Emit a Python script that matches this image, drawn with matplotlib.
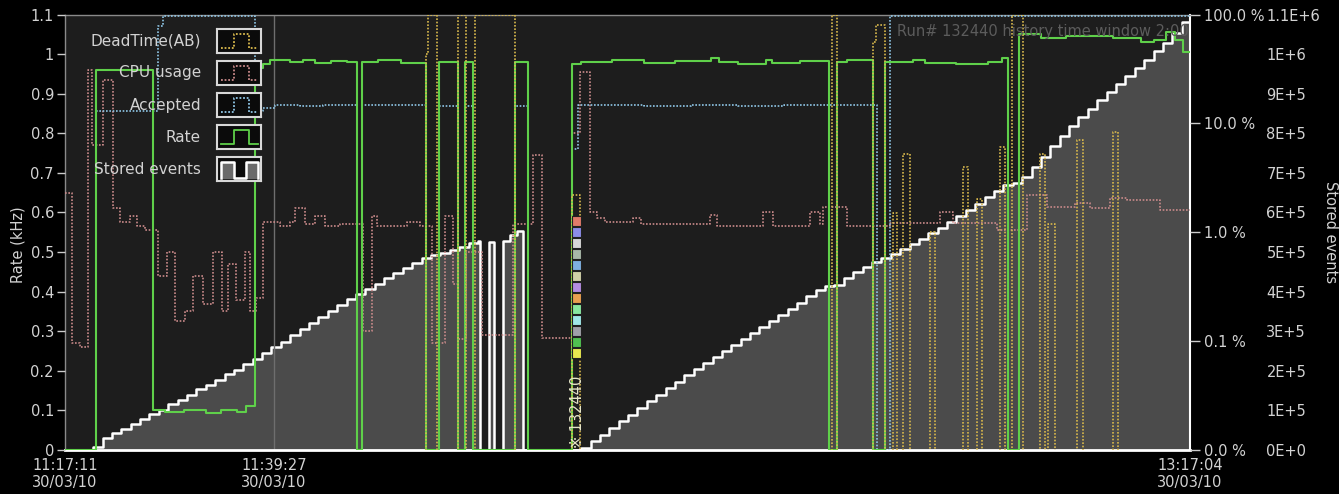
"""Run-control history: trigger rate, CPU usage, accepted, dead time and stored events."""
import matplotlib
matplotlib.use("Agg")
import matplotlib.pyplot as plt
import matplotlib.transforms as mtransforms
from matplotlib.ticker import NullLocator
import numpy as np

# ---------------------------------------------------------------- data
# all times are seconds after 11:17:11 on 30/03/10
start_clock = "11:17:11"
end_clock = "13:17:04"
tick_clocks = ["11:17:11", "11:39:27", "13:17:04"]
tick_date = "30/03/10"
cursor_clock = "11:39:27"
run_number = "132440"
run_start_t = 3242

# Rate (kHz), green solid
rate_t = [0, 198, 563, 640, 760, 900, 1000, 1100, 1160, 1215, 1266, 1311, 1440,
          1520, 1600, 1700, 1800, 1867, 1899, 2000, 2150, 2308, 2391, 2513, 2558,
          2609, 2877, 2960, 3242, 3300, 3500, 3700, 3900, 4130, 4180, 4300, 4480,
          4520, 4700, 4885, 4936, 5000, 5166, 5243, 5420, 5500, 5700, 5900, 5990,
          6029, 6100, 6240, 6400, 6700, 6880, 6960, 7040, 7100, 7148]
rate_v = [0, 0.96, 0.10, 0.095, 0.10, 0.093, 0.10, 0.095, 0.11, 0.965, 0.975, 0.985, 0.98,
          0.985, 0.978, 0.983, 0.98, 0, 0.98, 0.985, 0.978, 0, 0.98, 0, 0.98,
          0, 0.98, 0, 0.975, 0.98, 0.985, 0.978, 0.983, 0.99, 0.98, 0.975, 0.985,
          0.978, 0.983, 0, 0.98, 0.985, 0, 0.98, 0.985, 0.978, 0.975, 0.98, 0.99,
          0, 1.05, 1.04, 1.045, 1.04, 1.03, 1.035, 1.055, 1.035, 1.005]

# CPU usage, rose dotted (same left scale)
cpu_t = [0, 45, 96, 147, 173, 243, 307, 352, 416, 460, 512, 595, 652, 703, 767, 818,
         882, 946, 1004, 1042, 1093, 1151, 1183, 1221, 1266, 1375, 1439, 1471, 1535,
         1599, 1662, 1758, 1905, 1963, 1995, 2187, 2270, 2347, 2430, 2481, 2513,
         2564, 2666, 2865, 2992, 3050, 3242, 3293, 3357, 3402, 3453, 3632, 3683,
         4124, 4169, 4463, 4527, 4764, 4828, 4847, 5000, 5275, 5595, 5678, 5959,
         6151, 6279, 6458, 6554, 6682, 6790, 7001]
cpu_v = [0.65, 0.27, 0.26, 0.96, 0.77, 0.935, 0.61, 0.575, 0.59, 0.565, 0.555, 0.44, 0.50,
         0.325, 0.35, 0.44, 0.37, 0.50, 0.35, 0.47, 0.38, 0.50, 0.35, 0.385, 0.575, 0.565,
         0.575, 0.61, 0.57, 0.59, 0.565, 0.57, 0.30, 0.59, 0.565, 0.577, 0.565, 0.27,
         0.59, 0.42, 0.28, 0.50, 0.29, 0.57, 0.745, 0.283, 0.80, 0.955, 0.60, 0.585,
         0.575, 0.585, 0.572, 0.594, 0.567, 0.60, 0.565, 0.60, 0.57, 0.614, 0.565,
         0.574, 0.60, 0.574, 0.556, 0.645, 0.615, 0.625, 0.61, 0.637, 0.632, 0.607]

# Accepted, light-blue dotted (same left scale)
acc_t = [0, 198, 595, 627, 1215, 1266, 1343, 1500, 1650, 1867, 1899, 2308, 2391, 2513,
         2558, 2609, 2877, 2960, 3242, 3280, 3700, 4000, 4300, 4600, 5192, 5275]
acc_v = [0, 0.855, 1.07, 1.097, 0.855, 0.865, 0.872, 0.868, 0.872, 0, 0.872, 0, 0.87, 0,
         0.87, 0, 0.87, 0, 0.76, 0.872, 0.868, 0.872, 0.87, 0.872, 0, 1.097]

# DeadTime(AB) in percent, yellow dotted (log scale)
dead_t = [0, 2308, 2321, 2379, 2513, 2564, 2622, 2877, 3242, 3293, 4904, 4936, 5166,
          5185, 5243, 5294, 5320, 5358, 5403, 5531, 5563, 5742, 5774, 5831, 5863,
          5978, 6010, 6055, 6125, 6234, 6266, 6285, 6330, 6471, 6509, 6701, 6733]
dead_pct = [0, 43, 100, 0, 100, 0, 100, 0, 2.2, 0, 100, 0, 56,
            80, 0, 1.5, 0, 5.2, 0, 1.0, 0, 4.0, 0, 2.0, 0,
            6.1, 0, 100, 0, 5.2, 0, 1.2, 0, 7.1, 0, 8.3, 0]

# Stored events (thousands), sampled once a minute
stored_t = [*range(0, 2641, 60), 2654, 2711, 2743, 2801, 2845, 2890, 2928,
            3280, *range(3300, 7141, 60), 7193]
stored_k = [0, 0, 0, 8, 30, 42, 54, 66, 78, 90, 102, 115, 127, 140, 153, 165, 178, 191,
            203, 216, 229, 244, 259, 274, 290, 305, 321, 336, 352, 367, 381, 394, 407,
            420, 434, 447, 460, 473, 486, 492, 497, 504, 512, 522, 528,
            0, 526, 0, 529, 543, 554, 0,
            0, 6, 22, 39, 56, 72, 89, 106, 123, 140, 156, 173, 189, 204, 220, 235, 250,
            265, 281, 296, 311, 327, 342, 357, 372, 388, 403, 415, 418, 435, 449, 462,
            475, 484, 494, 508, 521, 534, 547, 561, 576, 591, 607, 622, 638, 653, 669,
            675, 689, 715, 741, 767, 792, 818, 841, 862, 883, 903, 924, 945, 966, 986,
            1007, 1028, 1053, 1082, 1092]

rate_ticks = [0, 0.1, 0.2, 0.3, 0.4, 0.5, 0.6, 0.7, 0.8, 0.9, 1.0, 1.1]
rate_labels = ["0", "0.1", "0.2", "0.3", "0.4", "0.5", "0.6", "0.7", "0.8", "0.9", "1", "1.1"]
pct_ticks = [100, 10, 1, 0.1, 0.01]
pct_labels = ["100.0 %", "10.0 %", "1.0 %", "0.1 %", "0.0 %"]
ev_ticks = [0, 1e5, 2e5, 3e5, 4e5, 5e5, 6e5, 7e5, 8e5, 9e5, 1e6, 1.1e6]
ev_labels = ["0E+0", "1E+5", "2E+5", "3E+5", "4E+5", "5E+5", "6E+5", "7E+5", "8E+5",
             "9E+5", "1E+6", "1.1E+6"]

# colour key shown in the run marker column (top to bottom)
marker_colors = ["#e07a6a", "#8c8ce8", "#d8d8d8", "#a8b8a8", "#7fb0e0", "#d0d0a8",
                 "#b48ce0", "#e8a050", "#88e8a0", "#a0e8e8", "#a0a0a8", "#50c050",
                 "#e8e850"]

legend_labels = ["DeadTime(AB)", "CPU usage", "Accepted", "Rate", "Stored events"]

# ---------------------------------------------------------------- style
GREEN = "#5fd04a"
ROSE = "#c98a8a"
BLUE = "#8fc6e6"
YELLOW = "#d8b84c"
TXT = "#d2d2d2"
DOTS = (0, (1, 1))
FS = 10.5


def clock_to_s(clock):
    h, m, s = (int(p) for p in clock.split(":"))
    h0, m0, s0 = (int(p) for p in start_clock.split(":"))
    return (h - h0) * 3600 + (m - m0) * 60 + (s - s0)


def ext(t, v, t_end):
    # extend a step series to the right edge
    return list(t) + [t_end], list(v) + [v[-1]]


plt.rcParams["font.family"] = ["DejaVu Sans"]
t_end = clock_to_s(end_clock)

fig = plt.figure(figsize=(13.39, 4.94), dpi=100, facecolor="black")
ax = fig.add_axes([65 / 1339, 1 - 450 / 494, 1125 / 1339, 435.5 / 494])
ax.set_facecolor("#1d1d1d")
ax.set_xlim(0, t_end)
ax.set_ylim(0, 1.1e6)

# stored events: grey area with a white staircase
st = np.array(stored_t)
sk = np.array(stored_k) * 1000.0
ax.fill_between(st, sk, step="post", color="#4b4b4b", lw=0)
ax.plot(st, sk, drawstyle="steps-post", color="white", lw=1.8)
ax.axvline(clock_to_s(cursor_clock), color="#6e6e6e", lw=1)

ax.set_yticks([])
ax.set_xticks([clock_to_s(c) for c in tick_clocks],
              [f"{c}\n{tick_date}" for c in tick_clocks])
ax.tick_params(axis="x", length=0, pad=6, labelcolor=TXT, labelsize=FS)
for lab in ax.get_xticklabels():
    lab.set_linespacing(1.1)
for side, col, lw in [("top", "#8a8a8a", 1), ("left", "#8a8a8a", 1),
                      ("bottom", "white", 2), ("right", "white", 1.5)]:
    ax.spines[side].set_color(col)
    ax.spines[side].set_linewidth(lw)

# stored-events scale: labels only, set well to the right of the plot
ax_ev = ax.twinx()
ax_ev.set_ylim(0, 1.1e6)
ax_ev.set_yticks(ev_ticks, ev_labels)
for s in ax_ev.spines.values():
    s.set_visible(False)
ax_ev.spines["right"].set_position(("outward", 53))
ax_ev.tick_params(axis="y", length=0, pad=2, labelcolor=TXT, labelsize=FS)

# rate, cpu, accepted on the left kHz scale
ax_rate = ax.twinx()
ax_rate.set_ylim(0, 1.1)
ax_rate.yaxis.tick_left()
ax_rate.set_yticks(rate_ticks, rate_labels)
ax_rate.tick_params(axis="y", length=6, width=1, color="#cccccc", pad=2,
                    labelcolor=TXT, labelsize=FS)
for s in ax_rate.spines.values():
    s.set_visible(False)

t, v = ext(cpu_t, cpu_v, t_end)
ax_rate.plot(t, v, drawstyle="steps-post", color=ROSE, lw=1.2, ls=DOTS)
t, v = ext(acc_t, acc_v, t_end)
ax_rate.plot(t, v, drawstyle="steps-post", color=BLUE, lw=1.2, ls=DOTS)
t, v = ext(rate_t, rate_v, t_end)
ax_rate.plot(t, v, drawstyle="steps-post", color=GREEN, lw=1.5)

# dead time on a log percent scale
ax_pct = ax.twinx()
ax_pct.set_yscale("log")
ax_pct.set_ylim(0.01, 100)
t, v = ext(dead_t, dead_pct, t_end)
ax_pct.plot(t, np.maximum(v, 0.005), drawstyle="steps-post", color=YELLOW, lw=1.2, ls=DOTS)
ax_pct.set_yticks(pct_ticks, pct_labels)
ax_pct.yaxis.set_minor_locator(NullLocator())
ax_pct.tick_params(axis="y", length=7, width=1, color="#cccccc", pad=3,
                   labelcolor=TXT, labelsize=FS)
for s in ax_pct.spines.values():
    s.set_visible(False)

# run marker: colour squares and vertical run number
blend = mtransforms.blended_transform_factory(ax_pct.transData, ax_pct.transAxes)
sq_y = np.linspace((450 - 221) / 435.5, (450 - 353) / 435.5, len(marker_colors))
ax_pct.scatter([run_start_t + 30] * len(marker_colors), sq_y, marker="s", s=42,
               c=marker_colors, edgecolors="#202020", linewidths=0.8,
               transform=blend, zorder=5)
ax_pct.text(run_start_t + 35, 0.005, "\u203b " + run_number, rotation=90, ha="center",
            va="bottom", color="#e6e6c8", fontsize=10.5, transform=blend, zorder=6)
ax_pct.text(0.7396, 0.962, f"Run# {run_number} history time window 2:00:00",
            transform=ax_pct.transAxes, color="#5c5c5c", fontsize=10.5, va="center",
            ha="left", clip_on=True)

fig.text(18 / 1339, 1 - 245 / 494, "Rate (kHz)", rotation=90, color=TXT,
         fontsize=FS, ha="center", va="center")
fig.text(1331 / 1339, 1 - 232 / 494, "Stored events", rotation=270, color=TXT,
         fontsize=FS, ha="center", va="center")

# legend drawn as framed sample boxes
styles = [(YELLOW, DOTS, "pulse"), (ROSE, DOTS, "pulse"), (BLUE, DOTS, "pulse"),
          (GREEN, "-", "pulse"), ("white", "-", "stored")]
for i, (label, (col, ls, kind)) in enumerate(zip(legend_labels, styles)):
    top = 29 + 32 * i
    lax = fig.add_axes([217 / 1339, 1 - (top + 24) / 494, 44 / 1339, 24 / 494])
    lax.set_facecolor("#0b0b0b")
    lax.set_xlim(0, 1)
    lax.set_ylim(0, 1)
    lax.set_xticks([])
    lax.set_yticks([])
    for s in lax.spines.values():
        s.set_color("#d8d8d8")
        s.set_linewidth(1.5)
    if kind == "pulse":
        lax.plot([0.08, 0.38, 0.38, 0.72, 0.72, 0.94], [0.22, 0.22, 0.8, 0.8, 0.22, 0.22],
                 color=col, ls=ls, lw=1.3)
    else:
        xs = [0.08, 0.08, 0.38, 0.38, 0.66, 0.66, 0.94, 0.94]
        ys = [0.12, 0.8, 0.8, 0.12, 0.12, 0.8, 0.8, 0.12]
        lax.fill(xs, ys, color="#6a6a6a")
        lax.plot(xs, ys, color=col, lw=1.8)
    fig.text(201 / 1339, 1 - (top + 12) / 494, label, color=TXT, fontsize=11,
             ha="right", va="center")

fig.savefig("out.png", dpi=100, facecolor="black")
